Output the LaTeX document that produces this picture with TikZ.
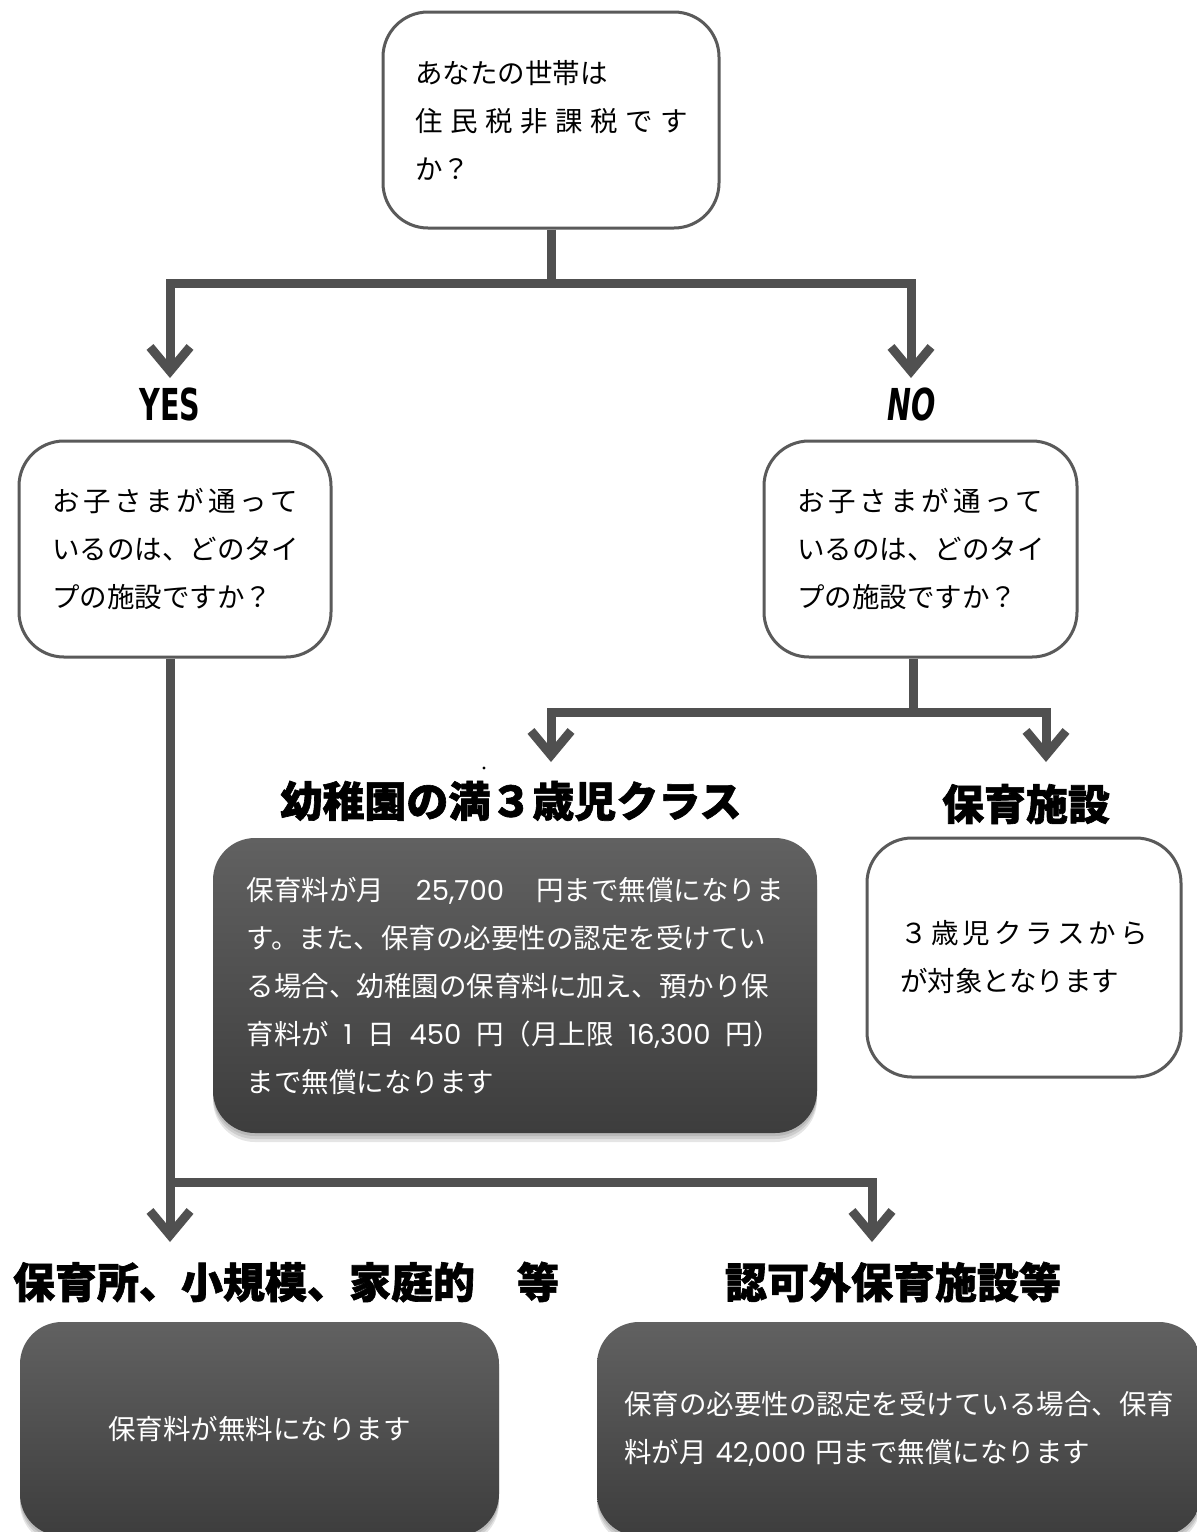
\documentclass[tikz,border=0pt]{standalone}
\usepackage{fontspec}
\usetikzlibrary{arrows.meta}
\newfontfamily\jp{Noto Sans CJK JP}
\newfontfamily\ttl{Noto Sans CJK JP}[FakeBold=1.5]
\newfontfamily\yn{DejaVu Sans}[FakeStretch=0.65]
\newfontfamily\num{Poppins}
\newcommand\bodyfont{\jp\fontsize{27.5}{48}\selectfont}
\makeatletter
\def\jspread#1#2{\leavevmode\hbox to #1{\jsp@first#2\relax}}
\def\jsp@first#1{#1\jsp@next}
\def\jsp@next#1{\ifx\relax#1\else\hfil#1\expandafter\jsp@next\fi}
\makeatother
\definecolor{conn}{HTML}{505050}
\definecolor{edge}{HTML}{5A5A5A}
\definecolor{darktop}{HTML}{616161}
\definecolor{darkbot}{HTML}{3D3D3D}
\tikzset{
  wire/.style={draw=conn,line width=9pt},
  arr/.style={wire,-{Straight Barb[length=24pt,width=40pt]}},
  qbox/.style={draw=edge,line width=3pt,fill=white,rounded corners=45pt,
    align=left,font=\bodyfont,inner ysep=0pt},
  dbox/.style={rounded corners=42pt,top color=darktop,bottom color=darkbot,
    text=white,font=\bodyfont,inner ysep=0pt},
  shade1/.style={fill=black,opacity=0.10,rounded corners=42pt},
  ttlstyle/.style={font=\ttl\bfseries\fontsize{42}{42}\selectfont,inner sep=0pt},
  ynstyle/.style={font=\yn\bfseries\fontsize{44}{44}\selectfont,inner sep=0pt},
}
\begin{document}
\begin{tikzpicture}[x=1pt,y=-1pt]
\useasboundingbox (0,0) rectangle (1197,1532);
\clip (0,0) rectangle (1197,1532);
\fill[white] (0,0) rectangle (1197,1532);

% coordinates of connector junctions and tips
\coordinate (j1) at (551,283);
\coordinate (yesTip) at (170,378);
\coordinate (noTip) at (911,378);
\coordinate (j2) at (913,712);
\coordinate (kindTip) at (551,762);
\coordinate (hoikuTip) at (1046,762);
\coordinate (j3) at (170,1182);
\coordinate (nurseryTip) at (170,1242);
\coordinate (ninkaTip) at (872,1242);

% question boxes
\node[qbox,minimum width=336pt,minimum height=216pt,inner xsep=32pt,text width=272pt]
  (top) at (551,120) {あなたの世帯は\\\jspread{273pt}{住民税非課税です}\\か？};
\node[qbox,minimum width=312pt,minimum height=216pt,inner xsep=33pt,text width=246pt]
  (qyes) at (175,549) {\jspread{246pt}{お子さまが通って}\\いるのは、どのタイ\\プの施設ですか？};
\node[qbox,minimum width=313pt,minimum height=216pt,inner xsep=33pt,text width=247pt]
  (qno) at (920.5,549) {\jspread{246pt}{お子さまが通って}\\いるのは、どのタイ\\プの施設ですか？};

% YES / NO labels
\node[ynstyle] (yes) at (170,404) {YES};
\node[ynstyle,font=\yn\bfseries\itshape\fontsize{44}{44}\selectfont] (no) at (912,404) {NO};

% connectors
\draw[wire] (top.south) -- (j1);
\draw[arr] (j1) -| (yesTip);
\draw[arr] (j1) -| (noTip);
\draw[wire] (j2 |- qno.south) -- (j2);
\draw[arr] (j2) -| (kindTip);
\draw[arr] (j2) -| (hoikuTip);
\draw[arr] (j3 |- qyes.south) -- (nurseryTip);
\draw[arr] (j3) -| (ninkaTip);

% titles
\node[ttlstyle] (tkind) at (511,801) {幼稚園の満３歳児クラス};
\node[ttlstyle] (thoiku) at (1026,804) {保育施設};
\node[ttlstyle] (tnursery) at (286,1282) {保育所、小規模、家庭的　等};
\node[ttlstyle] (tninka) at (893,1282) {認可外保育施設等};
\fill (484,768) circle (1.6pt);

% shadows of dark boxes
\foreach \d in {3,6,9}{
  \fill[shade1,shift={(0,\d)}] (213,838) rectangle (817,1133);
  \fill[shade1,shift={(0,\d)}] (20,1322) rectangle (499,1536);
  \fill[shade1,shift={(0,\d)}] (597,1322) rectangle (1201,1536);
}

% result boxes
\node[dbox,minimum width=604pt,minimum height=295pt,inner xsep=33.5pt,text width=537pt,align=left]
  (rkind) at (515,985.5)
  {\leavevmode\hbox to 537pt{保育料が月\hfil{\num 25,700}\hfil 円まで無償になりま}\\
   す。また、保育の必要性の認定を受けてい\\
   る場合、幼稚園の保育料に加え、預かり保\\
   \leavevmode\hbox to 534pt{育料が\hfil{\num 1}\hfil 日\hfil{\num 450}\hfil 円（月上限\hfil{\num 16,300}\hfil 円）}\\
   まで無償になります};
\node[qbox,minimum width=314pt,minimum height=239pt,inner xsep=33pt,text width=248pt]
  (rhoiku) at (1024,957.5) {\jspread{248pt}{３歳児クラスから}\\が対象となります};
\node[dbox,minimum width=479pt,minimum height=214pt,align=center]
  (rnursery) at (259.5,1429) {保育料が無料になります};
\node[dbox,minimum width=604pt,minimum height=214pt,inner xsep=27pt,text width=550pt,align=left]
  (rninka) at (899,1429) {保育の必要性の認定を受けている場合、保育\\料が月 {\num 42,000} 円まで無償になります};
\end{tikzpicture}
\end{document}
